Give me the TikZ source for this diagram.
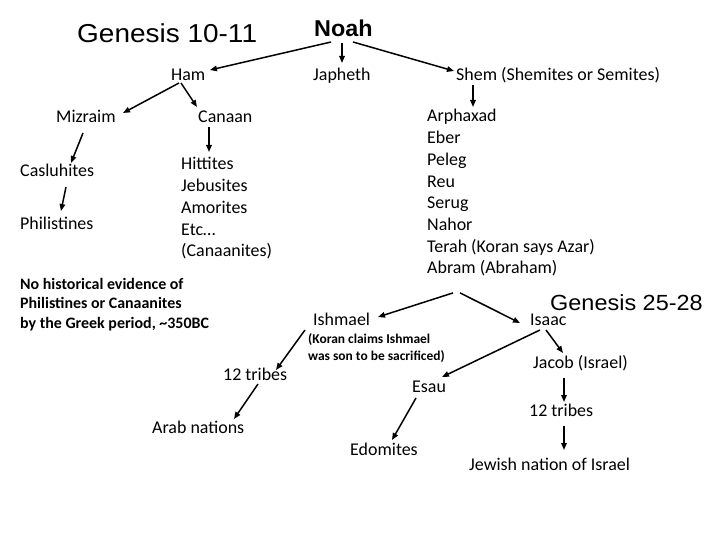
\documentclass[tikz,border=0pt]{standalone}
\usepackage{fontspec}
\setmainfont{Carlito}
\newfontfamily\arialfont{Liberation Sans}
\usetikzlibrary{arrows.meta}
\begin{document}
\begin{tikzpicture}[x=1bp,y=-1bp,
  lbl/.style={anchor=base west, inner sep=0pt, font=\fontsize{18}{21}\selectfont},
  note/.style={anchor=base west, inner sep=0pt, font=\fontsize{16}{19}\selectfont\bfseries},
  smallnote/.style={anchor=base west, inner sep=0pt, font=\fontsize{13.5}{16}\selectfont\bfseries},
  ttl/.style={anchor=base west, inner sep=0pt},
  arr/.style={line width=1.5bp, -{Triangle[length=7bp,width=5.5bp]}}]
\fill[white] (0,0) rectangle (720,540);
\useasboundingbox (0,0) rectangle (720,540);

% titles
\node[ttl] (gen1) at (77,43) {\arialfont\fontsize{26}{30}\selectfont\scalebox{1.08}[1]{Genesis 10-11}};
\node[ttl] (noah) at (314,37) {\arialfont\bfseries\fontsize{23}{27}\selectfont\scalebox{1.02}[1]{Noah}};
\node[ttl] (gen2) at (550,310) {\arialfont\fontsize{22}{26}\selectfont\scalebox{1.07}[1]{Genesis 25-28}};

% second row
\node[lbl] (ham) at (171,81) {Ham};
\node[lbl] (japheth) at (313,81) {Japheth};
\node[lbl] (shem) at (456,81) {Shem (Shemites or Semites)};

% Ham branch
\node[lbl] (mizraim) at (56,123) {Mizraim};
\node[lbl] (canaan) at (198,123) {Canaan};
\node[lbl] (casluhites) at (20,177) {Casluhites};
\node[lbl] (philistines) at (20,230) {Philistines};
\node[lbl] (hittites) at (181,170) {Hittites};
\node[lbl] (jebusites) at (181,191.7) {Jebusites};
\node[lbl] (amorites) at (181,213.4) {Amorites};
\node[lbl] (etc) at (181,235.1) {Etc\ldots};
\node[lbl] (canaanites) at (181,256.8) {(Canaanites)};

\node[note] (nohist1) at (20,289) {No historical evidence of};
\node[note] (nohist2) at (20,308.5) {Philistines or Canaanites};
\node[note] (nohist3) at (20,328) {by the Greek period, \textasciitilde 350BC};

% Shem line
\node[lbl] (arphaxad) at (427,122) {Arphaxad};
\node[lbl] (eber) at (427,143.7) {Eber};
\node[lbl] (peleg) at (427,165.4) {Peleg};
\node[lbl] (reu) at (427,187.1) {Reu};
\node[lbl] (serug) at (427,208.8) {Serug};
\node[lbl] (nahor) at (427,230.5) {Nahor};
\node[lbl] (terah) at (427,252.2) {Terah (Koran says Azar)};
\node[lbl] (abram) at (427,273.9) {Abram (Abraham)};

% Abraham's sons
\node[lbl] (ishmael) at (313,325) {Ishmael};
\node[smallnote] (koran1) at (308,343) {(Koran claims Ishmael};
\node[smallnote] (koran2) at (308,360) {was son to be sacrificed)};
\node[lbl] (isaac) at (530,325) {Isaac};
\node[lbl] (tribesL) at (223,380) {12 tribes};
\node[lbl] (arab) at (152,433) {Arab nations};
\node[lbl] (esau) at (412,392) {Esau};
\node[lbl] (edomites) at (350,455) {Edomites};
\node[lbl] (jacob) at (533,368) {Jacob (Israel)};
\node[lbl] (tribesR) at (529,416) {12 tribes};
\node[lbl] (jewish) at (469,470) {Jewish nation of Israel};

% arrows
\draw[arr] ([shift={(17,5)}]noah.base west) -- ([shift={(39,-11)}]ham.base west);
\draw[arr] ([shift={(28,6)}]noah.base west) -- ([shift={(29,-18)}]japheth.base west);
\draw[arr] ([shift={(39,5)}]noah.base west) -- ([shift={(-2,-10)}]shem.base west);
\draw[arr] ([shift={(8,2)}]ham.base west) -- ([shift={(67,-10)}]mizraim.base west);
\draw[arr] ([shift={(10,2)}]ham.base west) -- ([shift={(-1,-16)}]canaan.base west);
\draw[arr] ([shift={(17,4)}]shem.base west) -- ([shift={(46,-15)}]arphaxad.base west);
\draw[arr] ([shift={(27,10)}]mizraim.base west) -- ([shift={(51,-14)}]casluhites.base west);
\draw[arr] ([shift={(46,10)}]casluhites.base west) -- ([shift={(41,-19)}]philistines.base west);
\draw[arr] ([shift={(11,4)}]canaan.base west) -- ([shift={(28,-18)}]hittites.base west);
\draw[arr] ([shift={(26,19)}]abram.base west) -- ([shift={(65,-8)}]ishmael.base west);
\draw[arr] ([shift={(33,19)}]abram.base west) -- ([shift={(-10,-2)}]isaac.base west);
\draw[arr] ([shift={(-8,5)}]ishmael.base west) -- ([shift={(53,-10)}]tribesL.base west);
\draw[arr] ([shift={(35,4)}]tribesL.base west) -- ([shift={(82,-14)}]arab.base west);
\draw[arr] ([shift={(10,5)}]isaac.base west) -- ([shift={(30,-15)}]esau.base west);
\draw[arr] ([shift={(16,5)}]isaac.base west) -- ([shift={(30,-15)}]jacob.base west);
\draw[arr] ([shift={(4,6)}]esau.base west) -- ([shift={(42,-15)}]edomites.base west);
\draw[arr] ([shift={(31,10)}]jacob.base west) -- ([shift={(35,-14)}]tribesR.base west);
\draw[arr] ([shift={(35,10)}]tribesR.base west) -- ([shift={(95,-20)}]jewish.base west);
\end{tikzpicture}
\end{document}
